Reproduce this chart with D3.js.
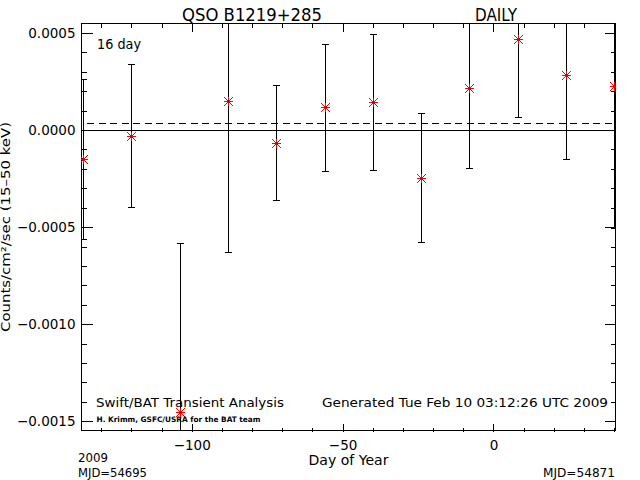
<!DOCTYPE html>
<html><head><meta charset="utf-8">
<script src="https://cdn.jsdelivr.net/npm/d3@7"></script>
<style>
html,body{margin:0;padding:0;background:#fff;}
text{font-family:"DejaVu Sans",sans-serif;fill:#000;}
</style></head>
<body>
<svg id="c" width="640" height="480"></svg>
<script>
// ---- data ----
const days  = [-136, -120, -104, -88, -72, -56, -40, -24, -8, 8, 24, 40];
const rates = [-0.000149, -0.000029, -0.001453, 0.000149, -0.000065, 0.000116,
               0.000144, -0.000245, 0.000215, 0.000467, 0.000282, 0.000225];
const errs  = [0.000410, 0.000369, 0.000873, 0.000777, 0.000296, 0.000327,
               0.000350, 0.000331, 0.000412, 0.000401, 0.000433, 0.000728];
const meanRate = 0.000034;
const xMajorTicks = [-100, -50, 0];
const xMinorTicks = [-130,-120,-110,-90,-80,-70,-60,-40,-30,-20,-10,10,20,30,40];
const yMajorTicks = [-0.0015, -0.0010, -0.0005, 0.0000, 0.0005];
const yMinorTicks = [-0.0014,-0.0013,-0.0012,-0.0011,-0.0009,-0.0008,-0.0007,-0.0006,
                     -0.0004,-0.0003,-0.0002,-0.0001,0.0001,0.0002,0.0003,0.0004];
const titleText = "QSO B1219+285";
const cadenceText = "DAILY";
const binText = "16 day";
const yTitle = "Counts/cm\u00B2/sec (15\u201350 keV)";
const xTitle = "Day of Year";

// ---- layout ----
const L = 81, R = 616, T = 23, B = 431;
const x = d3.scaleLinear().domain([-136.7, 40.6]).range([L, R]);
const y = d3.scaleLinear().domain([-0.00155, 0.000551]).range([B, T]);

const svg = d3.select("#c");
svg.append("defs").append("clipPath").attr("id","clip")
  .append("rect").attr("x",L).attr("y",T).attr("width",R-L).attr("height",B-T);

// axes (ticks point inward)
function ax(gen, tr){ const g = svg.append("g").attr("transform", tr).call(gen);
  g.select(".domain").remove(); g.selectAll("line").attr("stroke","#000").attr("shape-rendering","crispEdges"); return g; }
const fmtY = d3.format(".4f");
const fmtX = d3.format("d");
const gl = ax(d3.axisLeft(y).tickValues(yMajorTicks).tickSize(-11).tickPadding(6).tickFormat(fmtY), `translate(${L+0.5},0)`);
ax(d3.axisLeft(y).tickValues(yMinorTicks).tickSize(-5).tickFormat(""), `translate(${L+0.5},0)`);
ax(d3.axisRight(y).tickValues(yMajorTicks).tickSize(-11).tickFormat(""), `translate(${R-0.5},0)`);
ax(d3.axisRight(y).tickValues(yMinorTicks).tickSize(-5).tickFormat(""), `translate(${R-0.5},0)`);
const gb = ax(d3.axisBottom(x).tickValues(xMajorTicks).tickSize(-8).tickPadding(8).tickFormat(fmtX), `translate(0,${B+0.5})`);
ax(d3.axisBottom(x).tickValues(xMinorTicks).tickSize(-4).tickFormat(""), `translate(0,${B+0.5})`);
ax(d3.axisTop(x).tickValues(xMajorTicks).tickSize(-8).tickFormat(""), `translate(0,${T+0.5})`);
ax(d3.axisTop(x).tickValues(xMinorTicks).tickSize(-4).tickFormat(""), `translate(0,${T+0.5})`);
gl.selectAll("text").attr("font-size",13.5).attr("font-family","DejaVu Sans").attr("fill","#000");
gb.selectAll("text").attr("font-size",13.5).attr("font-family","DejaVu Sans").attr("fill","#000").attr("dy",0).attr("y",18);

// frame
svg.append("rect").attr("x",L+0.5).attr("y",T+0.5).attr("width",R-L-1).attr("height",B-T-1)
  .attr("fill","none").attr("stroke","#000").attr("shape-rendering","crispEdges");

const plot = svg.append("g").attr("clip-path","url(#clip)");
// zero line and mean line
plot.append("line").attr("x1",L).attr("x2",R).attr("y1",Math.round(y(0))+0.5).attr("y2",Math.round(y(0))+0.5)
  .attr("stroke","#000").attr("shape-rendering","crispEdges");
plot.append("line").attr("x1",L+6).attr("x2",R).attr("y1",Math.round(y(meanRate))+0.5).attr("y2",Math.round(y(meanRate))+0.5)
  .attr("stroke","#000").attr("stroke-dasharray","7,4.5").attr("shape-rendering","crispEdges");

const pts = days.map((d,i)=>({d, r:rates[i], e:errs[i]}));
// error bars
const eb = plot.selectAll("g.eb").data(pts).join("g").attr("class","eb");
eb.append("line").attr("x1",p=>Math.round(x(p.d))+0.5).attr("x2",p=>Math.round(x(p.d))+0.5)
  .attr("y1",p=>y(p.r+p.e)).attr("y2",p=>y(p.r-p.e)).attr("stroke","#000").attr("shape-rendering","crispEdges");
eb.filter(p=>p.r+p.e < y.domain()[1]).append("line")
  .attr("x1",p=>Math.round(x(p.d))-3).attr("x2",p=>Math.round(x(p.d))+4)
  .attr("y1",p=>Math.round(y(p.r+p.e))+0.5).attr("y2",p=>Math.round(y(p.r+p.e))+0.5)
  .attr("stroke","#000").attr("shape-rendering","crispEdges");
eb.filter(p=>p.r-p.e > y.domain()[0]).append("line")
  .attr("x1",p=>Math.round(x(p.d))-3).attr("x2",p=>Math.round(x(p.d))+4)
  .attr("y1",p=>Math.round(y(p.r-p.e))+0.5).attr("y2",p=>Math.round(y(p.r-p.e))+0.5)
  .attr("stroke","#000").attr("shape-rendering","crispEdges");
// asterisk markers
const s = 4.5;
const mk = plot.selectAll("g.mk").data(pts).join("g").attr("class","mk")
  .attr("transform",p=>`translate(${Math.round(x(p.d))+0.5},${Math.round(y(p.r))+0.5})`);
[[-s,0,s,0],[0,-s,0,s],[-s,-s,s,s],[-s,s,s,-s]].forEach(c=>{
  mk.append("line").attr("x1",c[0]).attr("y1",c[1]).attr("x2",c[2]).attr("y2",c[3])
    .attr("stroke","#ff0000").attr("stroke-width",1);
});
mk.append("circle").attr("r",1.4).attr("fill","#d00000");

// texts
function txt(str, xx, yy, size, len, anchor, extra){
  const t = svg.append("text").attr("x",xx).attr("y",yy).attr("font-size",size)
    .attr("text-anchor",anchor||"start").text(str);
  if(len) t.attr("textLength",len).attr("lengthAdjust","spacingAndGlyphs");
  if(extra) extra(t);
  return t;
}
txt(titleText, 182, 20.5, 17, 140);
txt(cadenceText, 475, 20.5, 17, 42);
txt(binText, 97, 48.5, 14, 44);
txt("Swift/BAT Transient Analysis", 96, 407, 13, 188);
txt("Generated Tue Feb 10 03:12:26 UTC 2009", 322, 407, 13, 286);
txt("H. Krimm, GSFC/USRA for the BAT team", 96.5, 422, 7.5, 164, "start", t=>t.attr("font-weight","bold"));
txt(xTitle, (L+R)/2, 465, 13.5, 80, "middle");
txt("2009", 78, 462, 12, 30);
txt("MJD=54695", 78, 477, 12, 69);
txt("MJD=54871", 615, 477, 12, 72, "end");
svg.append("text").attr("transform",`translate(10,${(T+B)/2}) rotate(-90)`)
  .attr("text-anchor","middle").attr("font-size",12).attr("textLength",210)
  .attr("lengthAdjust","spacingAndGlyphs").text(yTitle);
</script>
</body></html>
